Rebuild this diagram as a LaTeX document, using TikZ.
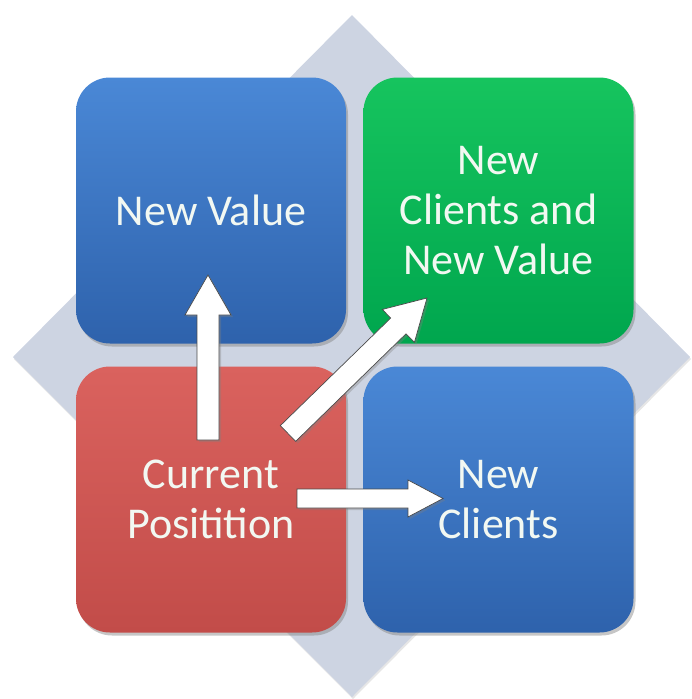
\documentclass[tikz,border=0pt]{standalone}
\usepackage{fontspec}
\setmainfont{Carlito}
\usetikzlibrary{calc,shadows}

\definecolor{bluetop}{HTML}{4A88D6}
\definecolor{bluebot}{HTML}{2E62AC}
\definecolor{greentop}{HTML}{16C45E}
\definecolor{greenbot}{HTML}{00A64E}
\definecolor{redtop}{HTML}{DA625E}
\definecolor{redbot}{HTML}{C24C49}
\definecolor{diamondgray}{HTML}{CDD4E2}
\definecolor{labelwhite}{HTML}{F2F8F2}
\definecolor{arrowedge}{HTML}{4A4A4A}

\tikzset{
  quad/.style={rounded corners=34pt, minimum width=270pt, minimum height=266pt,
    inner sep=0pt, align=center, text=labelwhite, font=\fontsize{44}{50}\selectfont,
    drop shadow={opacity=0.45, shadow xshift=2pt, shadow yshift=-3pt}},
  bluequad/.style={quad, top color=bluetop, bottom color=bluebot},
  greenquad/.style={quad, top color=greentop, bottom color=greenbot},
  redquad/.style={quad, top color=redtop, bottom color=redbot},
  blockarrow/.style={fill=white, draw=arrowedge, line width=0.7pt, line join=miter,
    drop shadow={opacity=0.35, shadow xshift=2pt, shadow yshift=-2pt}}
}

%% fat arrow: tail, tip, half shaft, half head, head length
\newcommand{\blockarrow}[5]{%
  \coordinate (hb) at ($(#2)!#5!(#1)$);
  \draw[blockarrow] ($(#1)!#3!90:(#2)$) -- ($(hb)!#3!90:(#2)$) -- ($(hb)!#4!90:(#2)$)
    -- (#2) -- ($(hb)!#4!-90:(#2)$) -- ($(hb)!#3!-90:(#2)$) -- ($(#1)!#3!-90:(#2)$) -- cycle;
}

\begin{document}
\begin{tikzpicture}[x=1pt,y=-1pt]
  \useasboundingbox (0,0) rectangle (691,699);

  %% Background diamond
  \fill[diamondgray, drop shadow={opacity=0.2, shadow xshift=1pt, shadow yshift=-2pt}]
    (352,15) -- (690,357) -- (352,697) -- (13,357) -- cycle;

  %% The four quadrants
  \node[bluequad]  (val)  at (211,210.5)   {New Value};
  \node[greenquad] (both) at (498.5,210.5) {New\\Clients and\\New Value};
  \node[redquad]   (cur)  at (211,499.5)   {Current\\Positition};
  \node[bluequad]  (cli)  at (498.5,499.5) {New\\Clients};

  %% Arrow ends
  \coordinate (upTail)    at ($(cur)+(-3,-59.5)$);
  \coordinate (upTip)     at ($(val)+(-3,64.5)$);
  \coordinate (diagTail)  at ($(cur)+(77,-66)$);
  \coordinate (diagTip)   at ($(both)+(-71.5,87.5)$);
  \coordinate (rightTail) at ($(cur)+(86,-1)$);
  \coordinate (rightTip)  at ($(cli)+(-55.5,-1)$);

  \blockarrow{upTail}{upTip}{11pt}{23pt}{40pt}
  \blockarrow{diagTail}{diagTip}{11pt}{23pt}{40pt}
  \blockarrow{rightTail}{rightTip}{9.5pt}{18.5pt}{35pt}
\end{tikzpicture}
\end{document}
